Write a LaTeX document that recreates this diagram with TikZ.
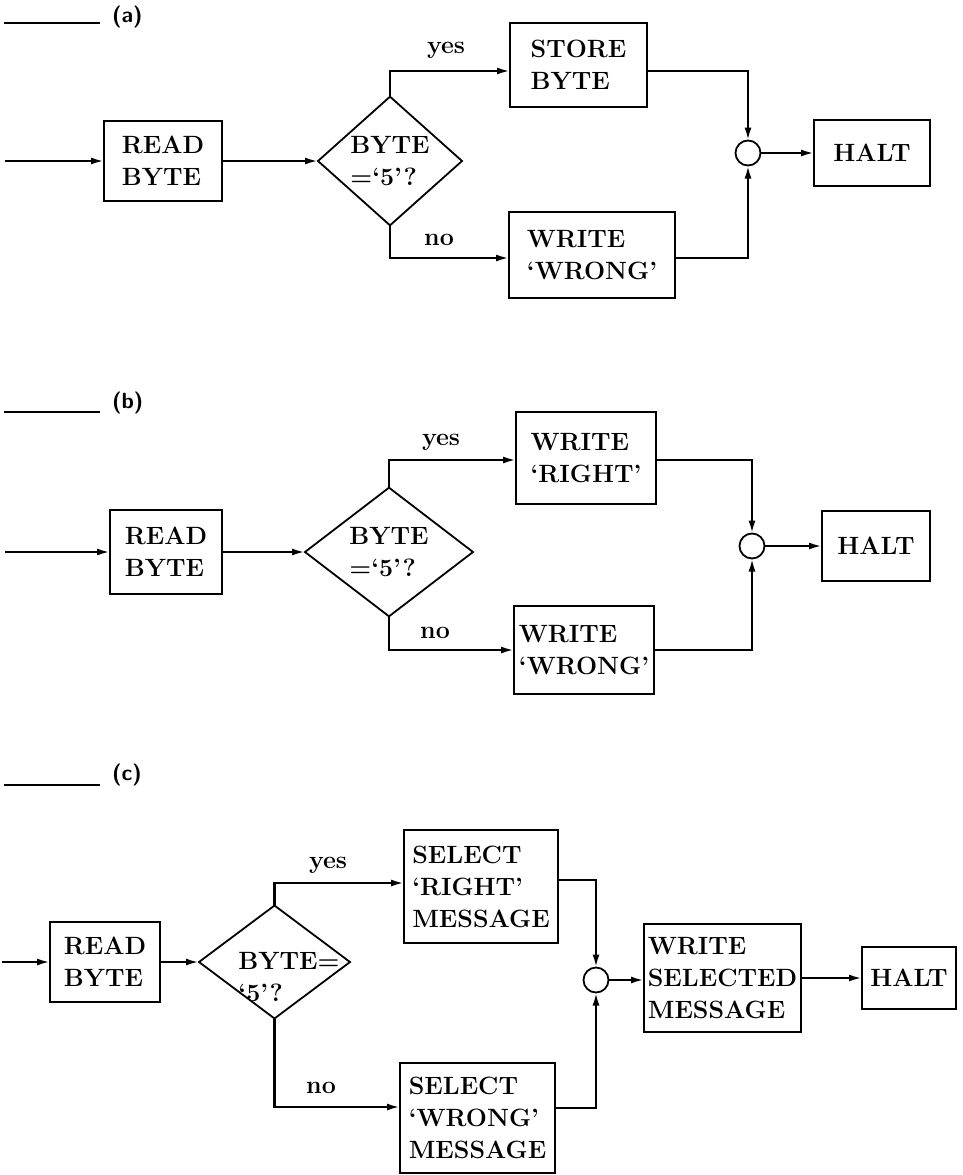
\documentclass[tikz,border=0pt]{standalone}
\usetikzlibrary{arrows.meta,shapes.geometric,calc}
\begin{document}
\tikzset{
 box/.style={draw, line width=1.8pt, inner sep=0pt, outer sep=0pt, align=left, font=\bfseries\fontsize{25}{32}\selectfont},
 dia/.style={draw, diamond, line width=1.8pt, inner sep=0pt, outer sep=0pt, align=left, font=\bfseries\fontsize{25}{32}\selectfont},
 dtext/.style={inner sep=0pt, align=left, font=\bfseries\fontsize{25}{32}\selectfont},
 junc/.style={draw, circle, line width=1.8pt, minimum size=25pt, inner sep=0pt, outer sep=0pt},
 conn/.style={line width=2.3pt, -{Latex[length=13pt,width=7pt]}},
 lab/.style={font=\bfseries\fontsize{25}{28}\selectfont, inner sep=0pt},
 tag/.style={font=\sffamily\bfseries\fontsize{22}{24}\selectfont, inner sep=0pt},
 rulel/.style={line width=1.6pt}
}
\begin{tikzpicture}[x=1pt,y=-1pt]
\useasboundingbox (0,0) rectangle (963,1175);
% ---------------- (a)
\coordinate (ra1) at (4,23); \coordinate (ra2) at (100,23);
\draw[rulel] (ra1) -- (ra2);
\node[tag, anchor=west] (ta) at (112,17) {(a)};
\coordinate (ina) at (5,161);
\node[box, minimum width=118pt, minimum height=80pt] (reada) at (163,161) {READ\\BYTE};
\node[dia, minimum width=144pt, minimum height=116pt] (da) at (390,161) {BYTE\\=`5'?};
\node[box, minimum width=137pt, minimum height=84pt] (storea) at (578.5,65) {STORE\\BYTE};
\node[box, minimum width=166pt, minimum height=86pt] (wronga) at (592,255) {WRITE\\`WRONG'};
\node[junc] (ja) at (748,153) {};
\node[box, minimum width=116pt, minimum height=66pt] (halta) at (872,153) {HALT};
\node[lab] (ya) at (446,50) {yes};
\node[lab] (na) at (439,240) {no};
\draw[conn] (ina) -- (reada.west);
\draw[conn] (reada.east) -- (da.west);
\draw[conn] (da.north) |- ($(storea.west)+(0,6)$);
\draw[conn] (da.south) |- ($(wronga.west)+(0,3)$);
\draw[conn] ($(storea.east)+(0,6)$) -| (ja.north);
\draw[conn] ($(wronga.east)+(0,3)$) -| (ja.south);
\draw[conn] (ja.east) -- (halta.west);
% ---------------- (b)
\coordinate (rb1) at (4,412); \coordinate (rb2) at (100,412);
\draw[rulel] (rb1) -- (rb2);
\node[tag, anchor=west] (tb) at (112,403) {(b)};
\coordinate (inb) at (5,552);
\node[box, minimum width=112pt, minimum height=84pt] (readb) at (166,552) {READ\\BYTE};
\node[dia, minimum width=168pt, minimum height=121pt] (db) at (389,552) {BYTE\\=`5'?};
\node[box, minimum width=140pt, minimum height=92pt] (rightb) at (586,458) {WRITE\\`RIGHT'};
\node[box, minimum width=140pt, minimum height=88pt] (wrongb) at (584,650) {WRITE\\`WRONG'};
\node[junc] (jb) at (752,546) {};
\node[box, minimum width=108pt, minimum height=70pt] (haltb) at (876,546) {HALT};
\node[lab] (yb) at (441,442) {yes};
\node[lab] (nb) at (435,633) {no};
\draw[conn] (inb) -- (readb.west);
\draw[conn] (readb.east) -- (db.west);
\draw[conn] (db.north) |- ($(rightb.west)+(0,2)$);
\draw[conn] (db.south) |- (wrongb.west);
\draw[conn] ($(rightb.east)+(0,2)$) -| (jb.north);
\draw[conn] (wrongb.east) -| (jb.south);
\draw[conn] (jb.east) -- (haltb.west);
% ---------------- (c)
\coordinate (rc1) at (4,785); \coordinate (rc2) at (100,785);
\draw[rulel] (rc1) -- (rc2);
\node[tag, anchor=west] (tc) at (112,775) {(c)};
\coordinate (inc) at (2,962);
\node[box, minimum width=110pt, minimum height=80pt] (readc) at (105,962) {READ\\BYTE};
\node[dia, minimum width=151pt, minimum height=113pt] (dc) at (274.5,962) {};
\node[dtext] (dct) at (289,977) {BYTE=\\`5'?};
\node[box, minimum width=154pt, minimum height=113pt] (rightc) at (481,886.5) {SELECT\\`RIGHT'\\MESSAGE};
\node[box, minimum width=155pt, minimum height=110pt] (wrongc) at (477.5,1118) {SELECT\\`WRONG'\\MESSAGE};
\node[junc] (jc) at (596,980) {};
\node[box, minimum width=157pt, minimum height=108pt] (wsc) at (722.5,978) {WRITE\\SELECTED\\MESSAGE};
\node[box, minimum width=94pt, minimum height=62pt] (haltc) at (909,978) {HALT};
\node[lab] (yc) at (328,865) {yes};
\node[lab] (nc) at (321,1088) {no};
\draw[conn] (inc) -- (readc.west);
\draw[conn] (readc.east) -- (dc.west);
\draw[conn] (dc.north) |- ($(rightc.west)+(0,-3.5)$);
\draw[conn] (dc.south) |- ($(wrongc.west)+(0,-11)$);
\draw[conn] ($(rightc.east)+(0,-6.5)$) -| (jc.north);
\draw[conn] ($(wrongc.east)+(0,-10)$) -| (jc.south);
\draw[conn] (jc.east) -- ($(wsc.west)+(0,2)$);
\draw[conn] (wsc.east) -- (haltc.west);
\end{tikzpicture}
\end{document}
